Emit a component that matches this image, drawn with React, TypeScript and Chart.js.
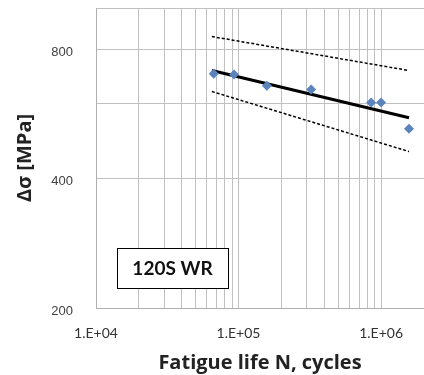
import React, { useEffect, useRef } from "react";
import { Chart, registerables } from "chart.js";

Chart.register(...registerables);

// Test data: fatigue life N (cycles) vs stress range (MPa)
const testLife = [67000, 93000, 158000, 323000, 851000, 1000000, 1570000];
const testStress = [703, 700, 659, 646, 602, 602, 523];

// Mean S-N curve and scatter band (endpoints)
const curveLife = [65000, 1570000];
const meanStress = [715, 555];
const upperStress = [858, 715];
const lowerStress = [639, 463];

// Axis ticks
const xTickValues = [
  10000, 20000, 30000, 40000, 50000, 60000, 70000, 80000, 90000,
  100000, 200000, 300000, 400000, 500000, 600000, 700000, 800000, 900000,
  1000000, 2000000,
];
const xLabelled = [10000, 100000, 1000000];
const yTickValues = [200, 400, 600, 800, 1000];
const yLabelled = [200, 400, 800];

const boxLabel = "120S WR";
const xTitle = "Fatigue life N, cycles";
const yTitle = "Δσ [MPa]";

const fmtExp = (v: number) => {
  const e = Math.round(Math.log10(v));
  return "1.E+" + String(e).padStart(2, "0");
};

const boxPlugin = {
  id: "labelBox",
  afterDatasetsDraw(chart: any) {
    const { ctx, chartArea } = chart;
    const x0 = chartArea.left + 21;
    const y0 = chartArea.bottom - 60;
    const w = 111;
    const h = 40;
    ctx.save();
    ctx.fillStyle = "#ffffff";
    ctx.fillRect(x0, y0, w, h);
    ctx.strokeStyle = "#000000";
    ctx.lineWidth = 1;
    ctx.strokeRect(x0 + 0.5, y0 + 0.5, w, h);
    ctx.fillStyle = "#111111";
    ctx.font = "bold 19px Lato";
    ctx.textAlign = "center";
    ctx.textBaseline = "middle";
    ctx.fillText(boxLabel, x0 + w / 2, y0 + h / 2 + 1);
    ctx.restore();
  },
};

const zeroPad = (s: any) => {
  s.paddingLeft = 0;
  s.paddingRight = 0;
  s.paddingTop = 0;
  s.paddingBottom = 0;
};

export default function App() {
  const ref = useRef<HTMLCanvasElement | null>(null);

  useEffect(() => {
    if (!ref.current) return;
    const pts = (xs: number[], ys: number[]) => xs.map((x, i) => ({ x, y: ys[i] }));
    const chart = new Chart(ref.current, {
      type: "scatter",
      data: {
        datasets: [
          {
            label: "Upper",
            data: pts(curveLife, upperStress),
            showLine: true,
            borderColor: "#000000",
            borderWidth: 1.5,
            borderDash: [3, 2],
            pointRadius: 0,
          },
          {
            label: "Lower",
            data: pts(curveLife, lowerStress),
            showLine: true,
            borderColor: "#000000",
            borderWidth: 1.5,
            borderDash: [3, 2],
            pointRadius: 0,
          },
          {
            label: "Tests",
            data: pts(testLife, testStress),
            pointStyle: "rectRot",
            pointRadius: 5,
            backgroundColor: "#5b84bd",
            borderColor: "#5b84bd",
            borderWidth: 0,
          },
          {
            label: "Mean",
            data: pts(curveLife, meanStress),
            showLine: true,
            borderColor: "#000000",
            borderWidth: 3,
            pointRadius: 0,
          },
        ],
      },
      options: {
        responsive: false,
        animation: false,
        layout: { autoPadding: false, padding: { top: 8, right: 0, left: 0, bottom: 0 } },
        plugins: { legend: { display: false }, tooltip: { enabled: false } },
        scales: {
          x: {
            type: "logarithmic",
            min: 10000,
            max: 2000000,
            afterBuildTicks: (s: any) => {
              s.ticks = xTickValues.map((v) => ({ value: v }));
            },
            afterFit: (s: any) => {
              s.height = 67;
              zeroPad(s);
            },
            grid: { color: "#c0c0c0", lineWidth: 1, drawTicks: false },
            border: { color: "#b0b0b0" },
            ticks: {
              autoSkip: false,
              maxRotation: 0,
              padding: 17,
              color: "#333333",
              font: { family: "Lato", size: 14 },
              callback: (v: any) => (xLabelled.includes(Number(v)) ? fmtExp(Number(v)) : ""),
            },
            title: {
              display: true,
              text: xTitle,
              color: "#222222",
              font: { family: "Open Sans", size: 20, weight: "bold" },
              padding: { top: 0, bottom: 0 },
            },
          },
          y: {
            type: "logarithmic",
            min: 200,
            max: 1000,
            afterBuildTicks: (s: any) => {
              s.ticks = yTickValues.map((v) => ({ value: v }));
            },
            afterFit: (s: any) => {
              s.width = 96;
              zeroPad(s);
            },
            grid: { color: "#c0c0c0", lineWidth: 1, drawTicks: false },
            border: { color: "#b0b0b0" },
            ticks: {
              autoSkip: false,
              padding: 23,
              labelOffset: 3,
              color: "#404040",
              font: { family: "Liberation Sans", size: 13 },
              callback: (v: any) => (yLabelled.includes(Number(v)) ? String(v) : ""),
            },
            title: {
              display: true,
              text: yTitle,
              color: "#222222",
              font: { family: "Open Sans", size: 20, weight: "bold" },
              padding: { top: 13, bottom: 0 },
            },
          },
        },
      },
      plugins: [boxPlugin],
    } as any);
    return () => chart.destroy();
  }, []);

  return (
    <div style={{ position: "fixed", left: 0, top: 0, width: 424, height: 375, background: "#ffffff" }}>
      <canvas ref={ref} width={424} height={375} />
    </div>
  );
}
